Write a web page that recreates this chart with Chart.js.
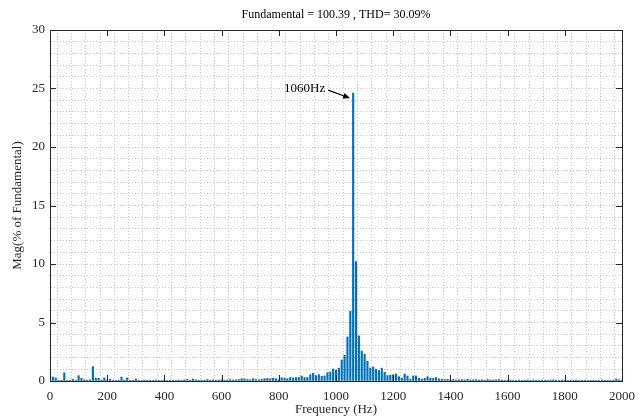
<!DOCTYPE html>
<html lang="en">
<head>
<meta charset="UTF-8">
<title>FFT analysis</title>
<style>
    body { margin: 0; background: #fff; }
</style>
</head>
<body>
<canvas id="fft" width="643" height="418"></canvas>
<script src="https://cdn.jsdelivr.net/npm/chart.js"></script>
<script>
const titleText = 'Fundamental = 100.39 , THD= 30.09%';
const peakLabel = '1060Hz';
const freqStep = 10; // Hz between harmonics
const xTickLabels = [0, 200, 400, 600, 800, 1000, 1200, 1400, 1600, 1800, 2000];
const yTickLabels = [0, 5, 10, 15, 20, 25, 30];

// magnitude (% of fundamental), one value per 10 Hz from 0 to 2000 Hz
const magnitudes = [
    0, 0.34, 0.26, 0.05, 0.06, 0.71, 0.05, 0.06, 0.14, 0.05,
    0.46, 0.23, 0.1, 0.08, 0.1, 1.23, 0.23, 0.23, 0.08, 0.26,
    0.1, 0.14, 0.05, 0.06, 0.08, 0.34, 0.08, 0.26, 0.05, 0.06,
    0.17, 0.06, 0.05, 0.08, 0.06, 0.07, 0.05, 0.08, 0.06, 0.05,
    0.08, 0.05, 0.06, 0.07, 0.05, 0.08, 0.06, 0.1, 0.12, 0.08,
    0.17, 0.1, 0.06, 0.08, 0.07, 0.12, 0.08, 0.1, 0.06, 0.08,
    0.1, 0.07, 0.09, 0.12, 0.08, 0.1, 0.12, 0.2, 0.18, 0.12,
    0.1, 0.2, 0.12, 0.1, 0.14, 0.2, 0.22, 0.18, 0.24, 0.2,
    0.12, 0.28, 0.24, 0.2, 0.3, 0.26, 0.3, 0.3, 0.43, 0.3,
    0.3, 0.54, 0.66, 0.46, 0.54, 0.4, 0.43, 0.71, 0.77, 1.03,
    0.94, 1.1, 1.8, 2.2, 3.77, 5.97, 24.6, 10.2, 3.86, 2.57,
    2.3, 1.69, 1.11, 1.2, 1.0, 0.89, 1.1, 0.74, 0.46, 0.51,
    0.54, 0.6, 0.37, 0.23, 0.6, 0.43, 0.14, 0.43, 0.43, 0.23,
    0.14, 0.23, 0.37, 0.23, 0.23, 0.3, 0.18, 0.15, 0.12, 0.14,
    0.1, 0.12, 0.08, 0.1, 0.12, 0.09, 0.14, 0.08, 0.1, 0.12,
    0.08, 0.1, 0.07, 0.12, 0.09, 0.08, 0.1, 0.12, 0.08, 0.07,
    0.06, 0.08, 0.07, 0.05, 0.08, 0.06, 0.07, 0.09, 0.06, 0.08,
    0.07, 0.06, 0.08, 0.07, 0.06, 0.08, 0.1, 0.07, 0.06, 0.08,
    0.06, 0.05, 0.07, 0.06, 0.08, 0.05, 0.06, 0.07, 0.05, 0.06,
    0.07, 0.05, 0.06, 0.08, 0.06, 0.07, 0.05, 0.08, 0.17, 0.1,
    0.06
];

const serif = 'Liberation Serif';
const ink = '#262626';

// box, inward tick marks, title over the plot and the peak annotation
const framePlugin = {
    id: 'frame',
    afterDatasetsDraw(chart) {
        const { ctx, chartArea: a, scales: { x, y } } = chart;
        ctx.save();
        ctx.strokeStyle = ink;
        ctx.lineWidth = 1;
        ctx.strokeRect(Math.round(a.left) + 0.5, Math.round(a.top) + 0.5,
            Math.round(a.right - a.left), Math.round(a.bottom - a.top));
        ctx.beginPath();
        xTickLabels.forEach(function (v) {
            const px = Math.round(x.getPixelForValue(v)) + 0.5;
            ctx.moveTo(px, a.bottom); ctx.lineTo(px, a.bottom - 6);
            ctx.moveTo(px, a.top); ctx.lineTo(px, a.top + 6);
        });
        yTickLabels.forEach(function (v) {
            const py = Math.round(y.getPixelForValue(v)) + 0.5;
            ctx.moveTo(a.left, py); ctx.lineTo(a.left + 6, py);
            ctx.moveTo(a.right, py); ctx.lineTo(a.right - 6, py);
        });
        ctx.stroke();

        ctx.fillStyle = '#000';
        ctx.font = '12px "' + serif + '"';
        ctx.textAlign = 'center';
        ctx.textBaseline = 'middle';
        ctx.fillText(titleText, (a.left + a.right) / 2, a.top - 15);

        const peak = Math.max(...magnitudes);
        const px = x.getPixelForValue(magnitudes.indexOf(peak) * freqStep);
        const py = y.getPixelForValue(peak);
        ctx.font = '13px "' + serif + '"';
        ctx.textAlign = 'right';
        ctx.fillText(peakLabel, px - 28, py - 5);

        const x0 = px - 25, y0 = py - 3, x1 = px - 3, y1 = py + 5;
        const ang = Math.atan2(y1 - y0, x1 - x0);
        ctx.strokeStyle = '#000';
        ctx.lineWidth = 1.2;
        ctx.beginPath();
        ctx.moveTo(x0, y0);
        ctx.lineTo(x1 - 5 * Math.cos(ang), y1 - 5 * Math.sin(ang));
        ctx.stroke();
        ctx.beginPath();
        ctx.moveTo(x1, y1);
        ctx.lineTo(x1 - 7 * Math.cos(ang) + 3 * Math.sin(ang), y1 - 7 * Math.sin(ang) - 3 * Math.cos(ang));
        ctx.lineTo(x1 - 7 * Math.cos(ang) - 3 * Math.sin(ang), y1 - 7 * Math.sin(ang) + 3 * Math.cos(ang));
        ctx.closePath();
        ctx.fill();
        ctx.restore();
    }
};

new Chart(document.getElementById('fft'), {
    type: 'bar',
    data: {
        datasets: [{
            data: magnitudes.map(function (v, i) { return { x: i * freqStep, y: v }; }),
            backgroundColor: '#0072BD',
            borderWidth: 0,
            barThickness: 1.5
        }]
    },
    options: {
        responsive: false,
        animation: false,
        layout: { padding: { top: 30, right: 15 } },
        plugins: {
            legend: { display: false },
            tooltip: { enabled: false },
            title: { display: false }
        },
        scales: {
            x: {
                type: 'linear',
                min: 0,
                max: 2000,
                offset: false,
                afterFit: function (s) { s.height = 37; },
                grid: { color: '#c8c8c8', drawTicks: false },
                border: { color: ink, dash: [1, 2] },
                ticks: {
                    stepSize: 50,
                    autoSkip: false,
                    maxRotation: 0,
                    padding: 8,
                    color: ink,
                    font: { family: serif, size: 13 },
                    callback: function (v) { return xTickLabels.includes(v) ? v : ''; }
                },
                title: {
                    display: true,
                    text: 'Frequency (Hz)',
                    color: ink,
                    font: { family: serif, size: 13 },
                    padding: { top: 0, bottom: 1 }
                }
            },
            y: {
                min: 0,
                max: 30,
                afterFit: function (s) { s.width = 50; },
                grid: { color: '#c8c8c8', drawTicks: false },
                border: { color: ink, dash: [1, 2] },
                ticks: {
                    stepSize: 1,
                    autoSkip: false,
                    padding: 5,
                    color: ink,
                    font: { family: serif, size: 13 },
                    callback: function (v) { return yTickLabels.includes(v) ? v : ''; }
                },
                title: {
                    display: true,
                    text: 'Mag(% of Fundamental)',
                    color: ink,
                    font: { family: serif, size: 13 },
                    padding: { top: 10, bottom: 0 }
                }
            }
        }
    },
    plugins: [framePlugin]
});
</script>
</body>
</html>
